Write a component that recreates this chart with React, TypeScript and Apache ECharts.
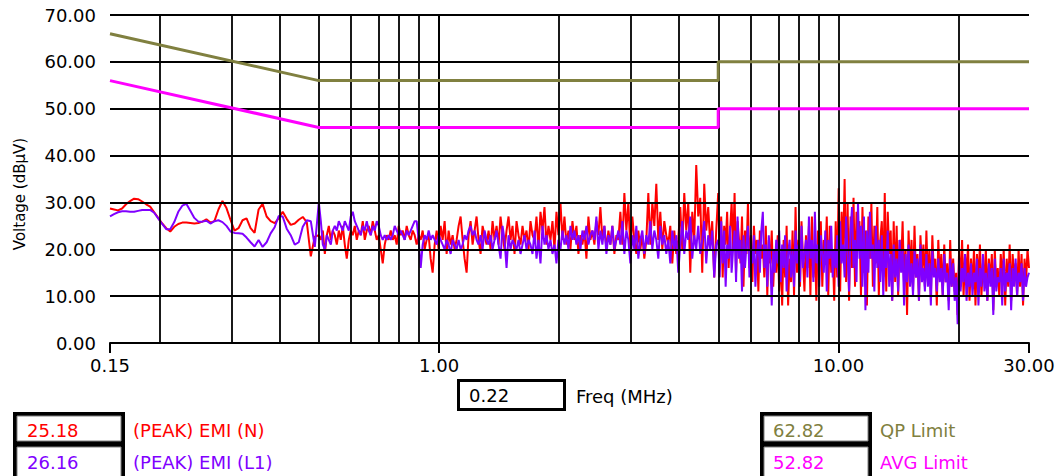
import React, { useEffect, useRef } from "react";
import * as echarts from "echarts";

// Sweep segments of the receiver: [start MHz, stop MHz, points, include stop]
const SWEEP_SEGMENTS: [number, number, number, boolean][] = [
  [0.15, 0.5, 52, false],
  [0.5, 5, 200, false],
  [5, 30, 210, true],
];

// (PEAK) EMI (N) — red
const N_LOW = [28.7, 28.5, 28.3, 28.7, 29.6, 30.3, 30.8, 30.7, 30.2, 29.6, 29.1, 27.9, 26.7, 25.5, 24.5, 23.8, 24.8, 25.4, 25.7, 25.7, 25.6, 25.5, 25.6, 25.9, 26.4, 25.7, 26.0, 28.5, 30.3, 28.8, 26.3, 24.0, 24.5, 26.2, 26.6, 24.5, 23.5, 28.5, 29.7, 27.0, 26.0, 25.6, 26.6, 28.0, 26.5, 25.2, 25.5, 26.3, 26.9, 25.8, 18.5, 22.7];
const N_MID = [
  23, 22, 24, 19, 23, 25, 22, 24, 23, 21, 24,
  22, 25, 21, 18, 22,
  24, 23, 25, 22, 24, 23, 26, 22, 24, 25, 23, 26, 24, 22, 23,
  20, 17, 21, 23, 22,
  24, 22, 23, 21, 25, 23, 24, 22, 25, 23, 22, 24, 23,
  21, 23, 22, 24, 20, 22, 23, 18, 15,
  21, 24, 20, 25, 22, 26, 19, 24, 21, 23, 20, 22,
  25, 27, 22, 18, 15,
  23, 26, 21, 24, 27, 22, 19, 25, 23, 21,
  24, 20, 26, 22, 25, 21, 27, 23, 20, 24,
  27, 22, 25, 19, 26, 23, 21, 25, 22, 24, 20, 26, 23,
  22, 27, 20, 28, 24, 29, 21, 25, 22,
  26, 20, 28, 23, 30, 22, 27, 21,
  24, 20, 26, 22, 25, 19, 23, 21, 24, 18, 27, 22, 24,
  21, 26, 23, 29, 22, 25,
  20, 24, 21, 25, 19, 23, 22,
  28, 21, 32, 24, 30, 20, 27,
  22, 19, 24, 20, 23, 18, 22,
  32, 21, 30, 25, 34, 22, 28, 20, 26, 23,
  21, 25, 17, 24, 19, 22,
  29, 20, 32, 24, 30, 15, 28, 22, 38,
  27, 31, 15, 34, 24, 29, 21,
  26, 14, 24,
];
const N_HIGH = [
  32, 18, 27, 14, 25, 21, 28, 16, 24, 30,
  20, 32, 15, 26, 22, 17, 27, 12, 24, 19,
  30, 16, 23, 13, 25, 19, 22, 11, 24, 18,
  21, 14, 25, 10, 22, 17, 24, 12, 20, 15,
  23, 11, 19, 8, 22, 14, 25, 8, 18, 13,
  24, 10, 29, 15, 22, 12, 26, 18, 11, 23,
  16, 25, 10, 27, 14, 21, 9, 24, 17, 26,
  12, 22, 18, 27, 10, 25, 15, 20, 9, 26,
  14, 33, 11, 28, 19, 35, 13, 30, 9, 27,
  16, 31, 12, 28, 20, 26, 10, 29, 15, 24,
  8, 27, 18, 30, 12, 25, 17, 29, 10, 22,
  26, 14, 32, 11, 28, 19, 24, 9, 26, 13,
  25, 10, 22, 16, 26, 12, 20, 6, 24, 15,
  22, 11, 25, 14, 19, 9, 23, 16, 21, 12,
  24, 13, 20, 10, 23, 15, 18, 8, 22, 14,
  19, 10, 21, 13, 17, 9, 22, 12, 18, 11,
  15, 6, 20, 12, 22, 10, 19, 14, 21, 9,
  18, 12, 20, 8, 19, 13, 21, 10, 17, 14,
  20, 9, 18, 13, 19, 7, 20, 12, 16, 10,
  19, 13, 20, 8, 18, 12, 21, 9, 19, 14,
  17, 10, 20, 12, 19, 8, 18, 13, 20, 16,
];

// (PEAK) EMI (L1) — purple
const L1_LOW = [27.0, 27.5, 27.9, 28.1, 28.1, 28.0, 28.0, 28.2, 28.4, 28.4, 28.4, 27.8, 26.6, 25.4, 24.3, 24.3, 25.8, 28.0, 29.3, 29.7, 28.2, 26.7, 25.9, 25.9, 26.1, 25.5, 26.0, 26.2, 25.8, 25.0, 23.8, 23.5, 23.4, 23.3, 22.5, 21.5, 20.6, 22.0, 20.5, 21.5, 23.4, 24.7, 27.1, 27.0, 24.4, 23.0, 21.0, 21.5, 24.8, 26.2, 26.0, 20.5];
const L1_MID = [
  30, 26, 21, 20, 23, 22, 21, 24, 25, 24, 26,
  25, 24, 26, 25, 24,
  27, 28, 26, 25, 24, 23, 25, 24, 26, 24, 23, 25, 24, 26, 25,
  23, 22, 23, 22, 23,
  22, 23, 25, 24, 23, 24, 23, 22, 24, 23, 24, 25, 26,
  26, 22, 16, 21, 23, 22, 24, 22, 23,
  22, 21, 23, 22, 21, 20, 22, 21, 19, 22, 21, 20,
  22, 20, 21, 23, 22,
  24, 25, 23, 24, 22, 21, 23, 20, 24, 22,
  21, 23, 20, 22, 24, 21, 18, 25, 22, 16,
  23, 20, 22, 21, 20, 22, 19, 21, 23, 20, 22, 21, 19,
  24, 18, 22, 17, 25, 21, 23, 20, 22,
  19, 21, 17, 22, 20, 24, 21, 23,
  20, 25, 22, 24, 21, 23, 20, 24, 22, 25, 21, 23, 24,
  22, 27, 20, 24, 21, 25,
  19, 23, 21, 25, 20, 22, 24,
  21, 26, 19, 24, 22, 17, 23,
  20, 25, 18, 22, 24, 19, 23,
  21, 26, 20, 24, 22, 18, 25, 21, 23, 19,
  22, 17, 24, 20, 23, 15,
  21, 26, 19, 24, 22, 27, 18, 23, 20,
  25, 19, 22, 26, 17, 23, 20,
  24, 14, 21,
];
const L1_HIGH = [
  22, 14, 26, 17, 24, 12, 21, 18, 25, 15,
  20, 24, 13, 27, 18, 22, 11, 23, 16, 21,
  25, 14, 20, 17, 23, 12, 19, 22, 15, 24,
  28, 16, 21, 12, 23, 18, 8, 20, 15, 22,
  17, 24, 13, 21, 16, 23, 11, 19, 22, 14,
  20, 12, 24, 17, 21, 13, 25, 16, 19, 22,
  14, 27, 18, 22, 13, 28, 17, 21, 12, 23,
  19, 15, 24, 11, 22, 18, 25, 14, 20, 16,
  23, 12, 26, 17, 21, 14, 27, 19, 11, 24,
  29, 16, 22, 13, 30, 18, 25, 12, 27, 7,
  24, 15, 28, 18, 21, 11, 25, 16, 22, 13,
  23, 10, 20, 16, 24, 12, 19, 9, 21, 14,
  18, 11, 22, 15, 20, 8, 19, 13, 21, 12,
  17, 10, 20, 14, 18, 9, 21, 13, 16, 11,
  19, 12, 17, 8, 20, 14, 16, 11, 18, 13,
  16, 10, 19, 13, 15, 7, 18, 12, 17, 9,
  14, 4, 18, 11, 16, 13, 19, 9, 15, 12,
  17, 10, 15, 13, 18, 8, 16, 12, 19, 11,
  15, 9, 17, 12, 16, 6, 18, 11, 14, 13,
  16, 8, 18, 11, 15, 13, 17, 7, 16, 12,
  18, 10, 15, 13, 17, 9, 16, 12, 14, 15,
];

// Limits
const QP_FREQ = [0.15, 0.5, 5, 5, 30];
const QP_VAL = [66, 56, 56, 60, 60];
const AVG_FREQ = [0.15, 0.5, 5, 5, 30];
const AVG_VAL = [56, 46, 46, 50, 50];

// Axes
const X_LABELS = [0.15, 1, 10, 30];
const X_GRID = [0.2, 0.3, 0.4, 0.5, 0.6, 0.7, 0.8, 0.9, 1, 2, 3, 4, 5, 6, 7, 8, 9, 10, 20, 30];
const Y_GRID = [10, 20, 30, 40, 50, 60, 70];

// Readouts
const CURSOR_FREQ = "0.22";
const LEGEND_NAMES = ["(PEAK) EMI (N)", "(PEAK) EMI (L1)", "QP Limit", "AVG Limit"];
const LEGEND_VALUES = ["25.18", "26.16", "62.82", "52.82"];
const LEGEND_COLORS = ["#ff0000", "#8000ff", "#808040", "#ff00ff"];

const FONT = "DejaVu Sans";
const lg = (f: number) => Math.log10(f);

function sweepFreqs(): number[] {
  const out: number[] = [];
  for (const [a, b, n, incl] of SWEEP_SEGMENTS) {
    const den = incl ? n - 1 : n;
    for (let i = 0; i < n; i++) out.push(a * Math.pow(b / a, i / den));
  }
  return out;
}

export default function App() {
  const ref = useRef<HTMLDivElement>(null);
  useEffect(() => {
    if (!ref.current) return;
    const chart = echarts.init(ref.current, null, { renderer: "svg" });
    const freqs = sweepFreqs();
    const nVals = [...N_LOW, ...N_MID, ...N_HIGH];
    const lVals = [...L1_LOW, ...L1_MID, ...L1_HIGH];
    const nData = freqs.map((f, i) => [lg(f), nVals[i]]);
    const lData = freqs.map((f, i) => [lg(f), lVals[i]]);
    const qpData = QP_FREQ.map((f, i) => [lg(f), QP_VAL[i]]);
    const avgData = AVG_FREQ.map((f, i) => [lg(f), AVG_VAL[i]]);
    const labelVals = X_LABELS.map(lg);

    const legendGraphics: any[] = [];
    const blocks = [
      { x: 13, idx: [0, 1], textX: 27, nameX: 133 },
      { x: 760, idx: [2, 3], textX: 773, nameX: 880 },
    ];
    for (const b of blocks) {
      legendGraphics.push({ type: "rect", shape: { x: b.x, y: 412, width: 112, height: 70 }, style: { fill: "#000" } });
      legendGraphics.push({ type: "rect", shape: { x: b.x + 4, y: 416, width: 104, height: 25 }, style: { fill: "#fff", stroke: "#808080", lineWidth: 1 } });
      legendGraphics.push({ type: "rect", shape: { x: b.x + 4, y: 447, width: 104, height: 35 }, style: { fill: "#fff", stroke: "#808080", lineWidth: 1 } });
      b.idx.forEach((k, j) => {
        const cy = j === 0 ? 430 : 462;
        legendGraphics.push({ type: "text", x: b.textX, y: cy, style: { text: LEGEND_VALUES[k], fill: LEGEND_COLORS[k], fontSize: 18, fontFamily: FONT, verticalAlign: "middle", align: "left" } });
        legendGraphics.push({ type: "text", x: b.nameX, y: cy, style: { text: LEGEND_NAMES[k], fill: LEGEND_COLORS[k], fontSize: 18, fontFamily: FONT, verticalAlign: "middle", align: "left" } });
      });
    }

    chart.setOption({
      animation: false,
      backgroundColor: "#fff",
      grid: { left: 110, top: 15, right: 32, bottom: 133, containLabel: false },
      xAxis: {
        type: "value",
        min: lg(0.15),
        max: lg(30),
        axisLine: { show: true, onZero: false, lineStyle: { color: "#000", width: 2 } },
        axisTick: { show: true, customValues: labelVals, length: 10, lineStyle: { color: "#000", width: 2 } },
        axisLabel: {
          customValues: labelVals,
          formatter: (v: number) => Math.pow(10, v).toFixed(2),
          fontSize: 18,
          fontFamily: FONT,
          color: "#000",
          margin: 13,
          hideOverlap: false,
        },
        splitLine: { show: false },
      },
      yAxis: {
        type: "value",
        min: 0,
        max: 70,
        interval: 10,
        axisLine: { show: true, lineStyle: { color: "#000", width: 2 } },
        axisTick: { show: true, length: 10, lineStyle: { color: "#000", width: 2 } },
        axisLabel: {
          formatter: (v: number) => v.toFixed(2),
          fontSize: 18,
          fontFamily: FONT,
          color: "#000",
          margin: 14,
        },
        splitLine: { show: false },
      },
      series: [
        {
          name: LEGEND_NAMES[0],
          type: "line",
          data: nData,
          showSymbol: false,
          color: LEGEND_COLORS[0],
          lineStyle: { width: 2, color: LEGEND_COLORS[0] },
          z: 2,
        },
        {
          name: LEGEND_NAMES[1],
          type: "line",
          data: lData,
          showSymbol: false,
          color: LEGEND_COLORS[1],
          lineStyle: { width: 2, color: LEGEND_COLORS[1] },
          z: 3,
        },
        {
          name: "grid",
          type: "line",
          data: [],
          z: 4,
          markLine: {
            silent: true,
            symbol: ["none", "none"],
            label: { show: false },
            animation: false,
            lineStyle: { color: "#000", width: 1.8, type: "solid" },
            emphasis: { disabled: true },
            data: [
              ...X_GRID.map((f) => ({ xAxis: lg(f) })),
              ...Y_GRID.map((v) => ({ yAxis: v })),
            ],
          },
        },
        {
          name: LEGEND_NAMES[2],
          type: "line",
          data: qpData,
          showSymbol: false,
          color: LEGEND_COLORS[2],
          lineStyle: { width: 3, color: LEGEND_COLORS[2] },
          z: 5,
        },
        {
          name: LEGEND_NAMES[3],
          type: "line",
          data: avgData,
          showSymbol: false,
          color: LEGEND_COLORS[3],
          lineStyle: { width: 3, color: LEGEND_COLORS[3] },
          z: 5,
        },
      ],
      graphic: [
        {
          type: "text",
          x: 20,
          y: 194,
          rotation: Math.PI / 2,
          style: { text: "Voltage (dBµV)", fontSize: 15, fontFamily: FONT, fill: "#000", align: "center", verticalAlign: "middle" },
        },
        { type: "rect", shape: { x: 458.5, y: 380.5, width: 106, height: 29 }, style: { fill: "#fff", stroke: "#000", lineWidth: 3 } },
        { type: "text", x: 469, y: 395, style: { text: CURSOR_FREQ, fontSize: 18, fontFamily: FONT, fill: "#000", verticalAlign: "middle", align: "left" } },
        { type: "text", x: 576, y: 396, style: { text: "Freq (MHz)", fontSize: 18, fontFamily: FONT, fill: "#000", verticalAlign: "middle", align: "left" } },
        ...legendGraphics,
      ],
    });
    return () => chart.dispose();
  }, []);
  return (
    <div
      ref={ref}
      style={{ position: "absolute", left: 0, top: 0, width: 1061, height: 476, background: "#fff" }}
    />
  );
}
